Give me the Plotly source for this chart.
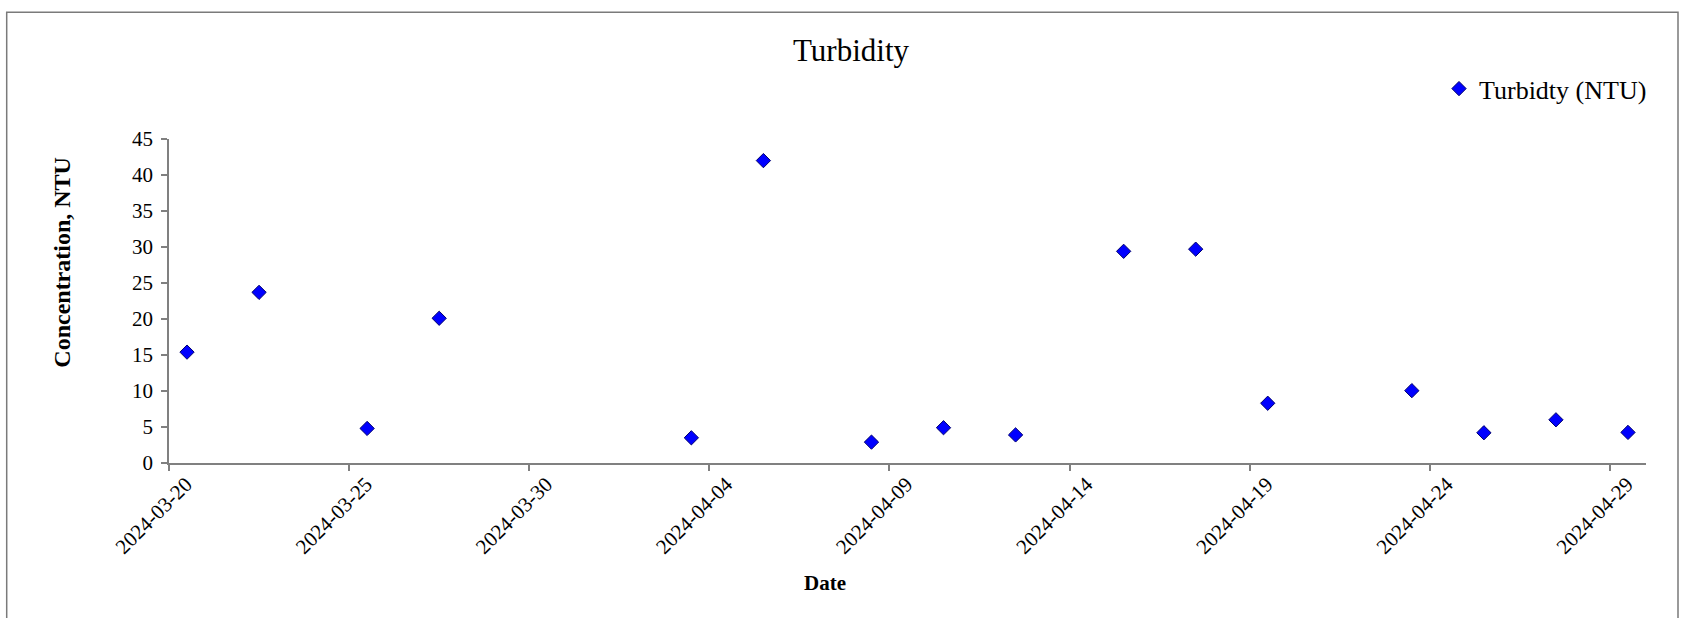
import plotly.graph_objects as go

# ---- data ----
dates = ['2024-03-20 12:00', '2024-03-22 12:00', '2024-03-25 12:00', '2024-03-27 12:00',
         '2024-04-03 12:00', '2024-04-05 12:00', '2024-04-08 12:00', '2024-04-10 12:00',
         '2024-04-12 12:00', '2024-04-15 12:00', '2024-04-17 12:00', '2024-04-19 12:00',
         '2024-04-23 12:00', '2024-04-25 12:00', '2024-04-27 12:00', '2024-04-29 12:00']
turbidity = [15.4, 23.7, 4.8, 20.1,
             3.5, 42.0, 2.9, 4.9,
             3.9, 29.4, 29.7, 8.3,
             10.05, 4.2, 6.0, 4.25]
x_ticks = ['2024-03-20', '2024-03-25', '2024-03-30', '2024-04-04', '2024-04-09',
           '2024-04-14', '2024-04-19', '2024-04-24', '2024-04-29']
y_ticks = [0, 5, 10, 15, 20, 25, 30, 35, 40, 45]
series_name = 'Turbidty (NTU)'
chart_title = 'Turbidity'
x_title = 'Date'
y_title = 'Concentration, NTU'

FONT = 'Liberation Serif, Times New Roman, serif'
AXIS = '#808080'

W, H = 1692, 618
L, R, T, B = 169, 46, 139.3, 154.7
pw, ph = W - L - R, H - T - B

def px(x):
    return (x - L) / pw

def py(y):
    return (H - B - y) / ph

fig = go.Figure()
fig.add_trace(go.Scatter(
    x=dates, y=turbidity, mode='markers', name=series_name,
    marker=dict(symbol='diamond', size=11, color='#0000FF',
                line=dict(color='#00006e', width=1)),
    showlegend=True,
))

fig.update_layout(
    width=W, height=H,
    margin=dict(l=L, r=R, t=T, b=B, autoexpand=False),
    paper_bgcolor='white', plot_bgcolor='white',
    font=dict(family=FONT, size=21, color='#000000'),
    showlegend=True,
    legend=dict(x=px(1439), y=py(89), xanchor='left', yanchor='middle',
                font=dict(family=FONT, size=26, color='#000000'),
                bgcolor='rgba(0,0,0,0)', itemwidth=30),
    xaxis=dict(type='date', range=['2024-03-20', '2024-04-30'],
               tickmode='array', tickvals=x_ticks, ticktext=x_ticks,
               tickangle=-45, ticks='outside', ticklen=6, tickcolor=AXIS, tickwidth=1.5,
               ticklabelshift=17, ticklabelstandoff=-7,
               showline=True, linecolor=AXIS, linewidth=1.5,
               showgrid=False, zeroline=False,
               tickfont=dict(family=FONT, size=21, color='#000000')),
    yaxis=dict(range=[0, 45], tickmode='array', tickvals=y_ticks,
               ticks='outside', ticklen=6, tickcolor=AXIS, tickwidth=1.5,
               ticklabelstandoff=4,
               showline=True, linecolor=AXIS, linewidth=1.5,
               showgrid=False, zeroline=False,
               tickfont=dict(family=FONT, size=21, color='#000000')),
    shapes=[dict(type='rect', xref='paper', yref='paper',
                 x0=px(6.7), x1=px(1678), y0=py(640), y1=py(12.5),
                 line=dict(color='#7a7a7a', width=1.5), layer='below')],
    annotations=[
        dict(text=chart_title, xref='paper', yref='paper', x=px(851), y=py(51),
             xanchor='center', yanchor='middle', showarrow=False,
             font=dict(family=FONT, size=31, color='#000000')),
        dict(text='<b>' + x_title + '</b>', xref='paper', yref='paper', x=px(825), y=py(583),
             xanchor='center', yanchor='middle', showarrow=False,
             font=dict(family=FONT, size=21, color='#000000')),
        dict(text='<b>' + y_title + '</b>', xref='paper', yref='paper', x=px(62), y=py(263),
             xanchor='center', yanchor='middle', showarrow=False, textangle=-90,
             font=dict(family=FONT, size=24, color='#000000')),
    ],
)

fig.write_html('out.html', config={'displayModeBar': False},
               post_script="document.body.style.margin='0';document.body.style.overflow='hidden';")
